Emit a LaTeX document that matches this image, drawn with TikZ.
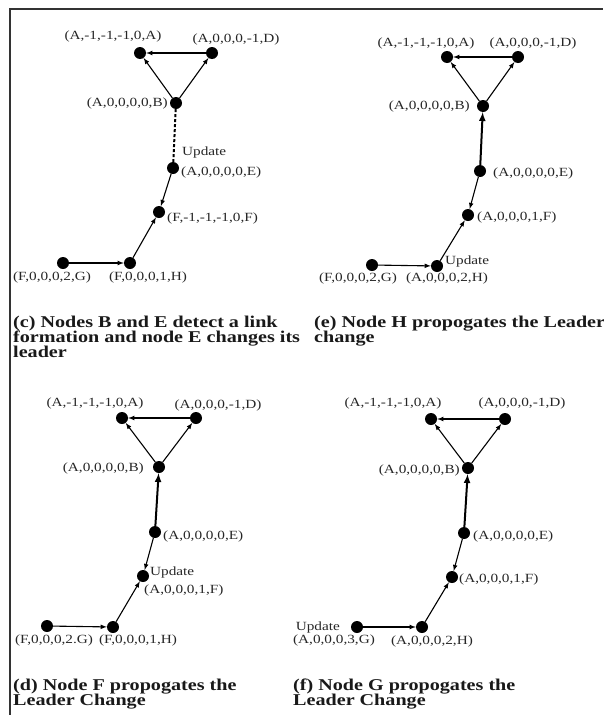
\documentclass[tikz,border=0pt]{standalone}
\usepackage{fontspec}
\setmainfont{Liberation Serif}[FakeStretch=1.22]
\usetikzlibrary{calc}

\tikzset{
  dot/.style={circle, fill=black, inner sep=0pt, minimum size=12pt},
  lbl/.style={inner sep=0pt, text=black!85, font=\fontsize{12.5}{14}\selectfont},
  captext/.style={inner sep=0pt, anchor=base west, text=black!90, font=\fontsize{16.5}{15}\selectfont\bfseries},
  link/.style={-latex, line width=1.1pt},
  heavy/.style={-latex, line width=2pt},
  upd/.style={line width=2pt, dash pattern=on 3pt off 2pt},
}

\begin{document}
\begin{tikzpicture}[x=1pt, y=-1pt]
			\useasboundingbox (0,0) rectangle (603,715);
			\draw[line width=1.3pt, black!80] (10,715) -- (10,9) -- (603,9);

			% (c)
			\node[dot] (cA) at (140,53) {};
			\node[dot] (cD) at (212,53) {};
			\node[dot] (cB) at (176,103) {};
			\node[dot] (cE) at (173,168) {};
			\node[dot] (cF) at (159,212) {};
			\node[dot] (cH) at (130,263) {};
			\node[dot] (cG) at (63,263) {};
			\node[lbl] (cAl) at (113,36) {(A,-1,-1,-1,0,A)};
			\node[lbl] (cDl) at (236,39) {(A,0,0,0,-1,D)};
			\node[lbl, anchor=east] (cBl) at (168,103) {(A,0,0,0,0,B)};
			\node[lbl, anchor=west] (cU) at (182,152) {Update};
			\node[lbl, anchor=west] (cEl) at (181,172) {(A,0,0,0,0,E)};
			\node[lbl, anchor=west] (cFl) at (167,218) {(F,-1,-1,-1,0,F)};
			\node[lbl] (cGl) at (52,277) {(F,0,0,0,2,G)};
			\node[lbl] (cHl) at (148,277) {(F,0,0,0,1,H)};
			\draw[link] (cD) -- (cA);
			\draw[link] (cB) -- (cA);
			\draw[link] (cB) -- (cD);
			\draw[upd] (cB) -- (cE);
			\draw[link] (cE) -- (cF);
			\draw[link] (cH) -- (cF);
			\draw[link] (cG) -- (cH);
			\node[captext] (cc1) at (13,327) {(c) Nodes B and E detect a link};
			\node[captext] (cc2) at (13,342) {formation and node E changes its};
			\node[captext] (cc3) at (13,357) {leader};

			% (e)
			\node[dot] (eA) at (447,57) {};
			\node[dot] (eD) at (518,57) {};
			\node[dot] (eB) at (483,106) {};
			\node[dot] (eE) at (480,171) {};
			\node[dot] (eF) at (468,215) {};
			\node[dot] (eH) at (437,266) {};
			\node[dot] (eG) at (372,265) {};
			\node[lbl] (eAl) at (426,43) {(A,-1,-1,-1,0,A)};
			\node[lbl] (eDl) at (533,43) {(A,0,0,0,-1,D)};
			\node[lbl, anchor=east] (eBl) at (470,106) {(A,0,0,0,0,B)};
			\node[lbl, anchor=west] (eEl) at (493,173) {(A,0,0,0,0,E)};
			\node[lbl, anchor=west] (eFl) at (477,217) {(A,0,0,0,1,F)};
			\node[lbl, anchor=west] (eU) at (445,261) {Update};
			\node[lbl] (eGl) at (358,278) {(F,0,0,0,2,G)};
			\node[lbl] (eHl) at (447,278) {(A,0,0,0,2,H)};
			\draw[link] (eD) -- (eA);
			\draw[link] (eB) -- (eA);
			\draw[link] (eB) -- (eD);
			\draw[heavy] (eE) -- (eB);
			\draw[link] (eE) -- (eF);
			\draw[link] (eH) -- (eF);
			\draw[link] (eG) -- (eH);
			\node[captext] (ec1) at (314,327) {(e) Node H propogates the Leader};
			\node[captext] (ec2) at (314,342) {change};

			% (d)
			\node[dot] (dA) at (122,418) {};
			\node[dot] (dD) at (196,418) {};
			\node[dot] (dB) at (159,467) {};
			\node[dot] (dE) at (155,532) {};
			\node[dot] (dF) at (143,576) {};
			\node[dot] (dH) at (113,627) {};
			\node[dot] (dG) at (47,626) {};
			\node[lbl] (dAl) at (95,403) {(A,-1,-1,-1,0,A)};
			\node[lbl] (dDl) at (218,405) {(A,0,0,0,-1,D)};
			\node[lbl, anchor=east] (dBl) at (144,468) {(A,0,0,0,0,B)};
			\node[lbl, anchor=west] (dEl) at (163,536) {(A,0,0,0,0,E)};
			\node[lbl, anchor=west] (dU) at (150,572) {Update};
			\node[lbl, anchor=west] (dFl) at (144,590) {(A,0,0,0,1,F)};
			\node[lbl] (dGl) at (54,640) {(F,0,0,0,2.G)};
			\node[lbl] (dHl) at (138,640) {(F,0,0,0,1,H)};
			\draw[link] (dD) -- (dA);
			\draw[link] (dB) -- (dA);
			\draw[link] (dB) -- (dD);
			\draw[heavy] (dE) -- (dB);
			\draw[link] (dE) -- (dF);
			\draw[link] (dH) -- (dF);
			\draw[link] (dG) -- (dH);
			\node[captext] (dc1) at (13,690) {(d) Node F propogates the};
			\node[captext] (dc2) at (13,705) {Leader Change};

			% (f)
			\node[dot] (fA) at (431,419) {};
			\node[dot] (fD) at (505,419) {};
			\node[dot] (fB) at (468,468) {};
			\node[dot] (fE) at (464,533) {};
			\node[dot] (fF) at (452,577) {};
			\node[dot] (fH) at (422,627) {};
			\node[dot] (fG) at (357,627) {};
			\node[lbl] (fAl) at (393,403) {(A,-1,-1,-1,0,A)};
			\node[lbl] (fDl) at (522,403) {(A,0,0,0,-1,D)};
			\node[lbl, anchor=east] (fBl) at (460,470) {(A,0,0,0,0,B)};
			\node[lbl, anchor=west] (fEl) at (473,536) {(A,0,0,0,0,E)};
			\node[lbl, anchor=west] (fFl) at (459,579) {(A,0,0,0,1,F)};
			\node[lbl, anchor=east] (fU) at (340,627) {Update};
			\node[lbl] (fGl) at (334,640) {(A,0,0,0,3,G)};
			\node[lbl] (fHl) at (432,641) {(A,0,0,0,2,H)};
			\draw[link] (fD) -- (fA);
			\draw[link] (fB) -- (fA);
			\draw[link] (fB) -- (fD);
			\draw[heavy] (fE) -- (fB);
			\draw[link] (fE) -- (fF);
			\draw[link] (fH) -- (fF);
			\draw[link] (fG) -- (fH);
			\node[captext] (fc1) at (293,690) {(f) Node G propogates the};
			\node[captext] (fc2) at (293,705) {Leader Change};
		\end{tikzpicture}
\end{document}
